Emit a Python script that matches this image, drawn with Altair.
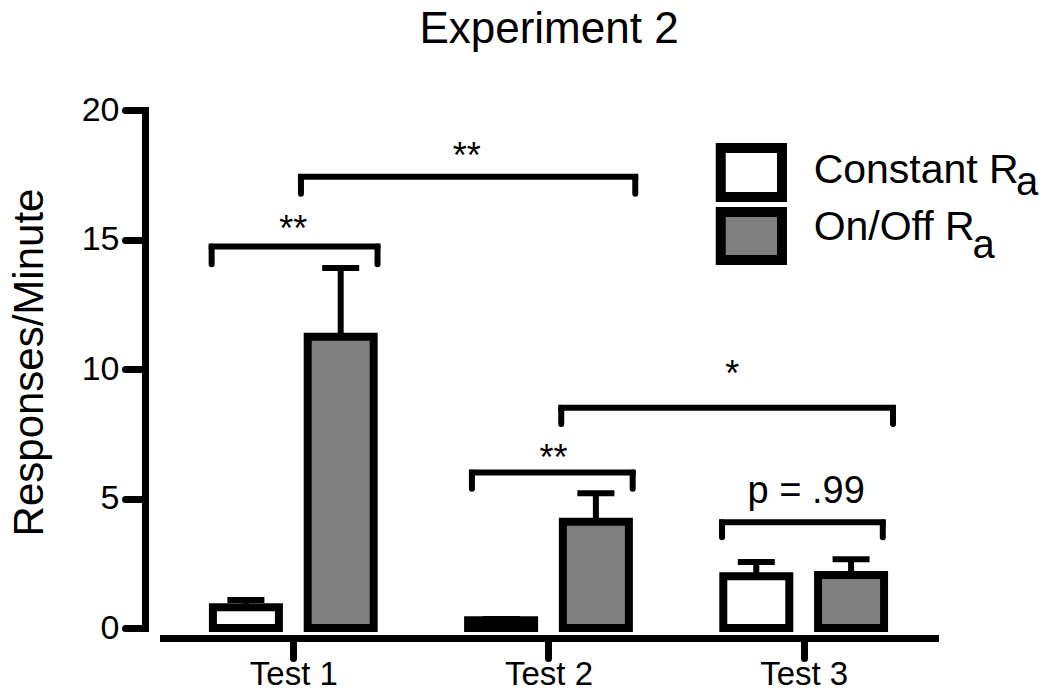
import altair as alt
import pandas as pd

# ---------------- data ----------------
tests = ["Test 1", "Test 2", "Test 3"]
conditions = ["Constant", "On/Off"]
constant_mean = [0.80, 0.30, 2.00]
constant_upper = [1.08, 0.35, 2.55]
onoff_mean = [11.25, 4.10, 2.05]
onoff_upper = [13.90, 5.20, 2.65]

# significance brackets: left x, right x (axis units), bar height, leg bottom, label, label x, label baseline y
br_x1 = [0.68, 1.03, 1.70, 2.05, 2.68]
br_x2 = [1.33, 2.34, 2.33, 3.35, 3.31]
br_top = [14.73, 17.42, 6.00, 8.50, 4.08]
br_leg = [14.04, 16.77, 5.38, 7.88, 3.50]
br_label = ["**", "**", "**", "*", "p = .99"]
br_label_x = [1.00, 1.68, 2.02, 2.72, 3.01]
br_label_y = [14.95, 17.75, 6.10, 9.35, 4.81]

# ---------------- layout constants ----------------
FONT = "Liberation Sans"
W, H = 772, 518
GROUP_OFFSET = 0.1857          # half distance between paired bars (axis units)
XDOM = [0.509, 3.495]

rows = []
for i, t in enumerate(tests):
    rows.append(dict(test=t, cond="Constant", pos=i + 1 - GROUP_OFFSET,
                     mean=constant_mean[i], upper=constant_upper[i]))
    rows.append(dict(test=t, cond="On/Off", pos=i + 1 + GROUP_OFFSET,
                     mean=onoff_mean[i], upper=onoff_upper[i]))
bars = pd.DataFrame(rows)

brackets = pd.DataFrame(dict(x1=br_x1, x2=br_x2, top=br_top, leg=br_leg,
                             label=br_label, lx=br_label_x, ly=br_label_y))
legs = pd.DataFrame(
    [dict(x=r.x1, top=r.top, leg=r.leg) for r in brackets.itertuples()]
    + [dict(x=r.x2, top=r.top, leg=r.leg) for r in brackets.itertuples()]
)
stars = brackets[brackets.label != "p = .99"]
pval = brackets[brackets.label == "p = .99"]

xs = alt.Scale(domain=XDOM, nice=False, zero=False)
ys = alt.Scale(domain=[0, 20], nice=False)
fill_scale = alt.Scale(domain=conditions, range=["white", "#808080"])

base = alt.Chart(bars)

bar_layer = base.mark_bar(size=66, stroke="black", strokeWidth=8, strokeJoin="miter").encode(
    x=alt.X("pos:Q", scale=xs,
            axis=alt.Axis(values=[1, 2, 3], labelExpr="'Test ' + datum.value", title=None,
                          domainWidth=7, domainColor="black", domainCap="square",
                          tickSize=20, tickWidth=7, tickColor="black", tickCap="round",
                          labelFontSize=33, labelFont=FONT, labelColor="black",
                          labelPadding=0, offset=10, grid=False, labelFlush=False)),
    y=alt.Y("mean:Q", scale=ys,
            axis=alt.Axis(values=[0, 5, 10, 15, 20], title="Responses/Minute",
                          domainWidth=7, domainColor="black", domainCap="square",
                          tickSize=20, tickWidth=7, tickColor="black", tickCap="round",
                          labelFontSize=34, labelFont=FONT, labelColor="black",
                          labelPadding=6, offset=18, grid=False,
                          titleFont=FONT, titleFontSize=42, titleFontWeight="normal",
                          titleColor="black", titleAngle=-90, titleBaseline="alphabetic",
                          titleAlign="center", titleX=-103, titleY=252)),
    fill=alt.Fill("cond:N", scale=fill_scale, legend=None),
)

stem_layer = base.mark_rule(strokeWidth=6, color="black", opacity=1).encode(
    x=alt.X("pos:Q", scale=xs), y=alt.Y("mean:Q", scale=ys), y2="upper:Q"
)
cap_layer = base.mark_tick(orient="horizontal", size=37, thickness=6, color="black",
                           opacity=1).encode(
    x=alt.X("pos:Q", scale=xs), y=alt.Y("upper:Q", scale=ys)
)

bracket_h = alt.Chart(brackets).mark_rule(strokeWidth=6, color="black", strokeCap="square").encode(
    x=alt.X("x1:Q", scale=xs), x2="x2:Q", y=alt.Y("top:Q", scale=ys)
)
bracket_v = alt.Chart(legs).mark_rule(strokeWidth=6, color="black", strokeCap="round").encode(
    x=alt.X("x:Q", scale=xs), y=alt.Y("top:Q", scale=ys), y2="leg:Q"
)
star_text = alt.Chart(stars).mark_text(fontSize=36, font=FONT, color="black",
                                       baseline="alphabetic", align="center").encode(
    x=alt.X("lx:Q", scale=xs), y=alt.Y("ly:Q", scale=ys), text="label:N"
)
p_text = alt.Chart(pval).mark_text(fontSize=38, font=FONT, color="black",
                                   baseline="alphabetic", align="center").encode(
    x=alt.X("lx:Q", scale=xs), y=alt.Y("ly:Q", scale=ys), text="label:N"
)

# ---------------- legend (drawn by hand for the subscript) ----------------
leg_box = pd.DataFrame(dict(cond=conditions,
                            x1=[2.675, 2.675], x2=[2.915, 2.915],
                            y1=[16.64, 14.21], y2=[18.53, 16.06]))
leg_main = pd.DataFrame(dict(text=["Constant R", "On/Off R"],
                             x=[3.039, 3.039], y=[17.18, 14.98]))
leg_sub = pd.DataFrame(dict(text=["a", "a"], x=[3.832, 3.662], y=[16.72, 14.29]))

legend_boxes = alt.Chart(leg_box).mark_rect(stroke="black", strokeWidth=10).encode(
    x=alt.X("x1:Q", scale=xs), x2="x2:Q",
    y=alt.Y("y1:Q", scale=ys), y2="y2:Q",
    fill=alt.Fill("cond:N", scale=fill_scale, legend=None),
)
legend_main = alt.Chart(leg_main).mark_text(fontSize=41, font=FONT, color="black",
                                           align="left", baseline="alphabetic").encode(
    x=alt.X("x:Q", scale=xs), y=alt.Y("y:Q", scale=ys), text="text:N"
)
legend_sub = alt.Chart(leg_sub).mark_text(fontSize=40, font=FONT, color="black",
                                         align="left", baseline="alphabetic").encode(
    x=alt.X("x:Q", scale=xs), y=alt.Y("y:Q", scale=ys), text="text:N"
)

chart = alt.layer(
    bar_layer, stem_layer, cap_layer, bracket_h, bracket_v, star_text, p_text,
    legend_boxes, legend_main, legend_sub
).properties(
    width=W, height=H,
    title=alt.TitleParams("Experiment 2", font=FONT, fontSize=44, fontWeight="normal",
                          color="black", anchor="middle", frame="group",
                          baseline="alphabetic", offset=6),
    autosize=alt.AutoSizeParams(type="none"),
    padding={"left": 155, "top": 102, "right": 106, "bottom": 63},
).configure(background="white").configure_view(strokeWidth=0, stroke="transparent")

chart.save("out.html", embed_options={"renderer": "svg", "actions": False})
